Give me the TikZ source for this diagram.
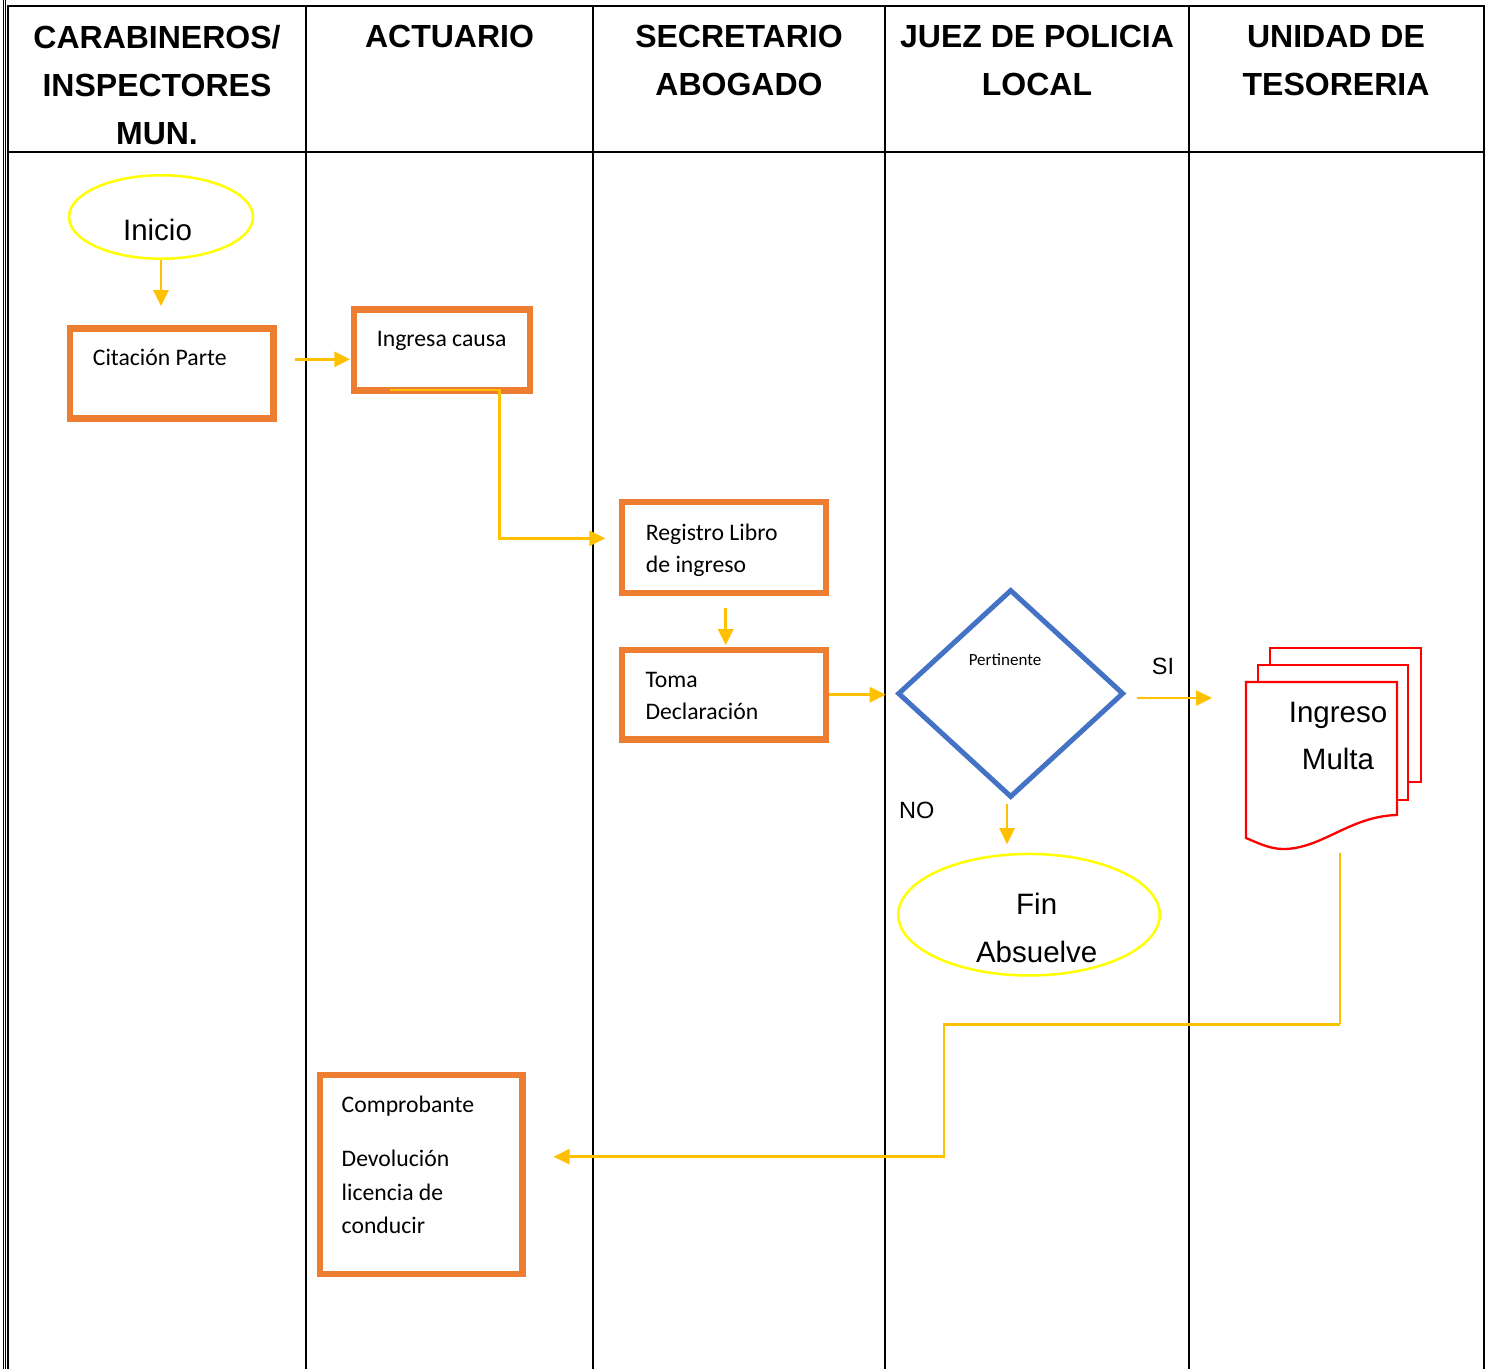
\documentclass[tikz,border=0pt]{standalone}
\usepackage{fontspec}
\setmainfont{Liberation Sans}
\newfontfamily\carl{Carlito}
\usetikzlibrary{shapes.geometric,arrows.meta,calc}
\definecolor{procorange}{HTML}{ED7D31}
\definecolor{flowgold}{HTML}{FFC000}
\definecolor{termyellow}{HTML}{FFFF00}
\definecolor{decblue}{HTML}{4472C4}
\definecolor{docred}{HTML}{FF0000}
\tikzset{
  lane/.style={line width=2pt, black},
  thinlane/.style={line width=0.9pt, black},
  head/.style={font=\fontsize{32}{48}\selectfont\bfseries, align=center, inner sep=0pt, anchor=north},
  proc/.style={rectangle, draw=procorange, line width=6.5pt, inner sep=0pt},
  ptxt/.style={font=\carl\fontsize{23.7}{32.4}\selectfont, align=left, inner sep=0pt, anchor=base west},
  term/.style={ellipse, draw=termyellow, line width=2.5pt, inner sep=0pt},
  ttxt/.style={font=\fontsize{29.5}{47.7}\selectfont, align=center, inner sep=0pt, anchor=base},
  dec/.style={diamond, draw=decblue, line width=5pt, inner sep=0pt},
  lbl/.style={font=\fontsize{23.5}{28}\selectfont, inner sep=0pt, anchor=base},
  docpage/.style={draw=docred, fill=white, line width=2.3pt, line join=miter},
  flow/.style={draw=flowgold, line width=2.5pt, -{Triangle[length=16pt,width=15pt]}},
}
\begin{document}
\begin{tikzpicture}[x=1pt, y=-1pt]
\useasboundingbox (0,0) rectangle (1490,1369);

% table frame
\draw[thinlane] (3.5,0) -- (3.5,1369);
\draw[thinlane] (5.6,0) -- (5.6,1369);
\draw[lane] (8.3,6) -- (8.3,1369);
\draw[lane] (7.3,6) -- (1485,6);
\draw[lane] (7.3,152) -- (1485,152);
\foreach \xx in {306,593,885,1189,1484}
  \draw[lane] (\xx,6) -- (\xx,1369);

% headers
\node[head] (h1) at (157,25.3) {CARABINEROS/\\INSPECTORES\\MUN.};
\node[head] (h2) at (449.5,25.3) {ACTUARIO};
\node[head] (h3) at (739,25.3) {SECRETARIO\\ABOGADO};
\node[head] (h4) at (1037,25.3) {JUEZ DE POLICIA\\LOCAL};
\node[head] (h5) at (1336,25.3) {UNIDAD DE\\TESORERIA};

% terminals
\node[term, minimum width=184pt, minimum height=83.5pt] (ini) at (161,217) {};
\node[ttxt] (iniT) at (157.5,240.5) {Inicio};
\node[term, minimum width=261.5pt, minimum height=121.5pt] (fin) at (1029,914.7) {};
\node[ttxt] (finT) at (1036.7,962.2) {Fin\\Absuelve};

% process boxes
\node[proc, minimum width=203.5pt, minimum height=90.2pt] (cit) at (171.8,373.4) {};
\node[ptxt] (citT) at (92.7,365) {Citación Parte};
\node[proc, minimum width=175.8pt, minimum height=81.4pt] (ing) at (441.9,350) {};
\node[ptxt] (ingT) at (376.7,346) {Ingresa causa};
\node[proc, minimum width=203.6pt, minimum height=90.6pt] (reg) at (724,547.5) {};
\node[ptxt] (regT) at (645.7,572.5) {Registro Libro\\de ingreso};
\node[proc, minimum width=203.6pt, minimum height=89.5pt] (toma) at (724,694.7) {};
\node[ptxt] (tomaT) at (645.3,719.8) {Toma\\Declaración};
\node[proc, minimum width=202.5pt, minimum height=198.8pt] (comp) at (421,1174.4) {};
\node[ptxt, font=\carl\fontsize{23.7}{33.3}\selectfont] (compT) at (341.5,1233.3) {Comprobante\\[21.4pt]Devolución\\licencia de\\conducir};

% decision
\node[dec, minimum width=226pt, minimum height=208pt] (dec) at (1010.7,693.5) {};
\node[lbl, font=\carl\fontsize{17}{20}\selectfont] (decT) at (1005,665) {Pertinente};
\node[lbl] (si) at (1163,674.5) {SI};
\node[lbl] (no) at (916.8,818.5) {NO};

% multi-document
\draw[docpage] (1270,648) rectangle (1421,782);
\draw[docpage] (1258,665) rectangle (1408,800);
\draw[docpage] (1246,682) -- (1397,682) -- (1397,815)
  .. controls (1350,816) and (1322,849) .. (1283,849)
  .. controls (1270,849) and (1258,843) .. (1246,838) -- cycle;
\node[ttxt] (docT) at (1338,769.8) {Ingreso\\Multa};
\coordinate (docin) at (1246,698);
\coordinate (docb) at (1340,853);

% connectors
\draw[flow, shorten >=19pt] (ini.south) -- (ini.south |- cit.north);
\coordinate (a1) at (295,359.3);
\draw[flow, shorten >=0.5pt] (a1) -- (a1 -| ing.west);
\coordinate (a2) at (390,390);
\coordinate (k1) at (499.3,538.3);
\draw[flow, shorten >=13.5pt] (a2) -| (k1) -- (k1 -| reg.west);
\draw[flow, shorten <=12pt, shorten >=1.5pt] ([xshift=1.7pt]reg.south) -- ([xshift=1.7pt]toma.north);
\draw[flow, shorten >=9.5pt] (toma.east) -- (toma.east -| dec.west);
\draw[flow, shorten <=11pt, shorten >=34pt] (dec.east |- docin) -- (docin);
\draw[flow, shorten <=4pt, shorten >=8.5pt] ([xshift=-3.7pt]dec.south) -- ([xshift=-3.7pt]dec.south |- fin.north);
\coordinate (k2) at (944,1024.3);
\coordinate (k3) at (944,1156.7);
\draw[draw=flowgold, line width=1.3pt] (docb) -- (docb |- k2);
\draw[flow, shorten >=28pt] (docb |- k2) -- (k2) -- (k3) -- (k3 -| comp.east);
\end{tikzpicture}
\end{document}
